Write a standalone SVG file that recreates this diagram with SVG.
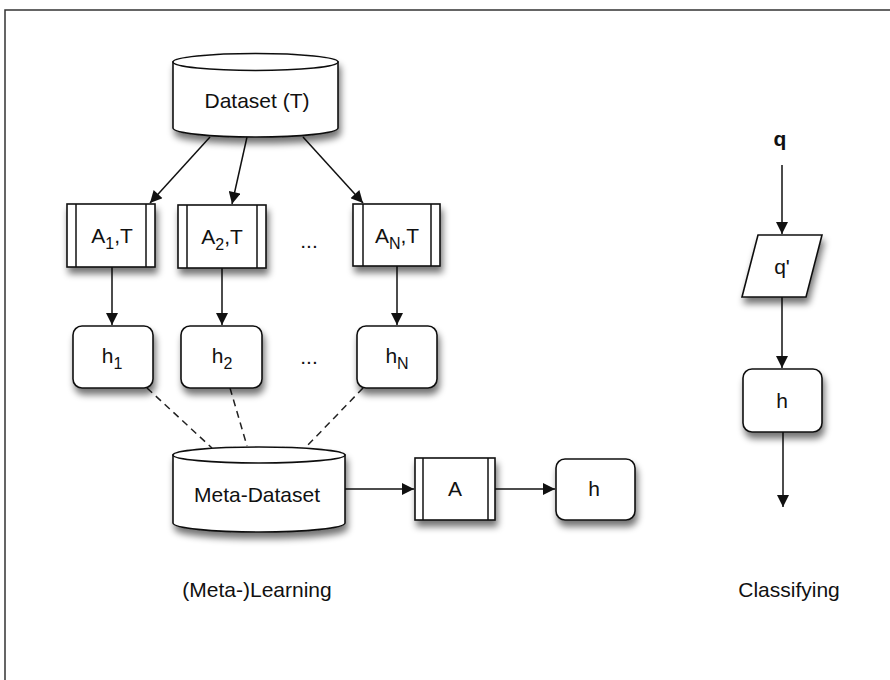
<svg xmlns="http://www.w3.org/2000/svg" width="890" height="680" viewBox="0 0 890 680">
<style>
.t{font-family:"Liberation Sans",Arial,sans-serif;font-size:21px;fill:#111;text-anchor:middle}
.s{stroke:#111;stroke-width:1.6;fill:#fff}
.c{stroke:#111;stroke-width:1.5;fill:none}
.d{stroke:#222;stroke-width:1.5;fill:none;stroke-dasharray:7,5}
</style>
<defs>
<filter id="sh" x="-20%" y="-20%" width="150%" height="160%">
<feGaussianBlur in="SourceAlpha" stdDeviation="3.5"/>
<feOffset dx="2" dy="6" result="b"/>
<feComponentTransfer><feFuncA type="linear" slope="0.55"/></feComponentTransfer>
<feMerge><feMergeNode/><feMergeNode in="SourceGraphic"/></feMerge>
</filter>
<marker id="ah" viewBox="0 0 10 10" refX="10" refY="5" markerWidth="13" markerHeight="12" markerUnits="userSpaceOnUse" orient="auto">
<path d="M0,0 L10,5 L0,10 z" fill="#111"/>
</marker>
</defs>
<rect width="890" height="680" fill="#fff"/>
<path d="M5,680 L5,10 L890,10" fill="none" stroke="#333" stroke-width="1.5"/>

<g id="connectors">
<line class="c" x1="210" y1="137" x2="150" y2="203" marker-end="url(#ah)"/>
<line class="c" x1="247" y1="137" x2="232" y2="204" marker-end="url(#ah)"/>
<line class="c" x1="303" y1="137" x2="363" y2="203" marker-end="url(#ah)"/>
<line class="c" x1="112" y1="267" x2="112" y2="325" marker-end="url(#ah)"/>
<line class="c" x1="222" y1="268" x2="222" y2="325" marker-end="url(#ah)"/>
<line class="c" x1="397" y1="266" x2="397" y2="325" marker-end="url(#ah)"/>
<line class="d" x1="147" y1="388" x2="212" y2="448"/>
<line class="d" x1="230" y1="388" x2="247" y2="446"/>
<line class="d" x1="363" y1="388" x2="307" y2="446"/>
<line class="c" x1="345" y1="489" x2="414" y2="489" marker-end="url(#ah)"/>
<line class="c" x1="495" y1="489" x2="555" y2="489" marker-end="url(#ah)"/>
<line class="c" x1="782" y1="165" x2="782" y2="234" marker-end="url(#ah)"/>
<line class="c" x1="782" y1="297" x2="782" y2="368" marker-end="url(#ah)"/>
<line class="c" x1="783" y1="432" x2="783" y2="507" marker-end="url(#ah)"/>
</g>

<g id="dataset">
<g filter="url(#sh)">
<path class="s" d="M173,62 L173,128 A82.5,9 0 0 0 338,128 L338,62 Z"/>
<ellipse class="s" cx="255.5" cy="62" rx="82.5" ry="8.5"/>
</g>
<text class="t" x="257" y="108">Dataset (T)</text>
</g>

<g id="a1">
<rect class="s" x="67" y="204" width="88" height="63" filter="url(#sh)"/>
<line class="c" x1="76" y1="204" x2="76" y2="267"/>
<line class="c" x1="146" y1="204" x2="146" y2="267"/>
<text class="t" x="112" y="243">A<tspan font-size="16" dy="6">1</tspan><tspan dy="-6">,T</tspan></text>
</g>
<g id="a2">
<rect class="s" x="178" y="205" width="88" height="63" filter="url(#sh)"/>
<line class="c" x1="187" y1="205" x2="187" y2="268"/>
<line class="c" x1="257" y1="205" x2="257" y2="268"/>
<text class="t" x="222" y="244">A<tspan font-size="16" dy="6">2</tspan><tspan dy="-6">,T</tspan></text>
</g>
<g id="dots1"><text class="t" x="309" y="248">...</text></g>
<g id="an">
<rect class="s" x="353" y="204" width="87" height="62" filter="url(#sh)"/>
<line class="c" x1="363" y1="204" x2="363" y2="266"/>
<line class="c" x1="431" y1="204" x2="431" y2="266"/>
<text class="t" x="397" y="243">A<tspan font-size="16" dy="6">N</tspan><tspan dy="-6">,T</tspan></text>
</g>

<g id="h1">
<rect class="s" x="73" y="326" width="80" height="62" rx="9" filter="url(#sh)"/>
<text class="t" x="112" y="363">h<tspan font-size="16" dy="6">1</tspan></text>
</g>
<g id="h2">
<rect class="s" x="181" y="326" width="81" height="62" rx="9" filter="url(#sh)"/>
<text class="t" x="222" y="363">h<tspan font-size="16" dy="6">2</tspan></text>
</g>
<g id="dots2"><text class="t" x="309" y="364">...</text></g>
<g id="hn">
<rect class="s" x="357" y="326" width="80" height="62" rx="9" filter="url(#sh)"/>
<text class="t" x="397" y="363">h<tspan font-size="16" dy="6">N</tspan></text>
</g>

<g id="metadataset">
<g filter="url(#sh)">
<path class="s" d="M173,455 L173,523 A86,9 0 0 0 345,523 L345,455 Z"/>
<ellipse class="s" cx="259" cy="455" rx="86" ry="8"/>
</g>
<text class="t" x="257" y="502">Meta-Dataset</text>
</g>

<g id="a">
<rect class="s" x="415" y="458" width="80" height="62" filter="url(#sh)"/>
<line class="c" x1="423" y1="458" x2="423" y2="520"/>
<line class="c" x1="488" y1="458" x2="488" y2="520"/>
<text class="t" x="455" y="496">A</text>
</g>
<g id="h">
<rect class="s" x="556" y="459" width="79" height="61" rx="9" filter="url(#sh)"/>
<text class="t" x="594" y="496">h</text>
</g>

<g id="q"><text class="t" x="780" y="146" font-weight="bold">q</text></g>
<g id="qprime">
<path class="s" d="M758,235 L822,235 L806,297 L742,297 Z" filter="url(#sh)"/>
<text class="t" x="782" y="274">q'</text>
</g>
<g id="hc">
<rect class="s" x="743" y="369" width="79" height="63" rx="9" filter="url(#sh)"/>
<text class="t" x="782" y="408">h</text>
</g>

<g id="labels">
<text class="t" x="257" y="597">(Meta-)Learning</text>
<text class="t" x="789" y="597">Classifying</text>
</g>
</svg>
